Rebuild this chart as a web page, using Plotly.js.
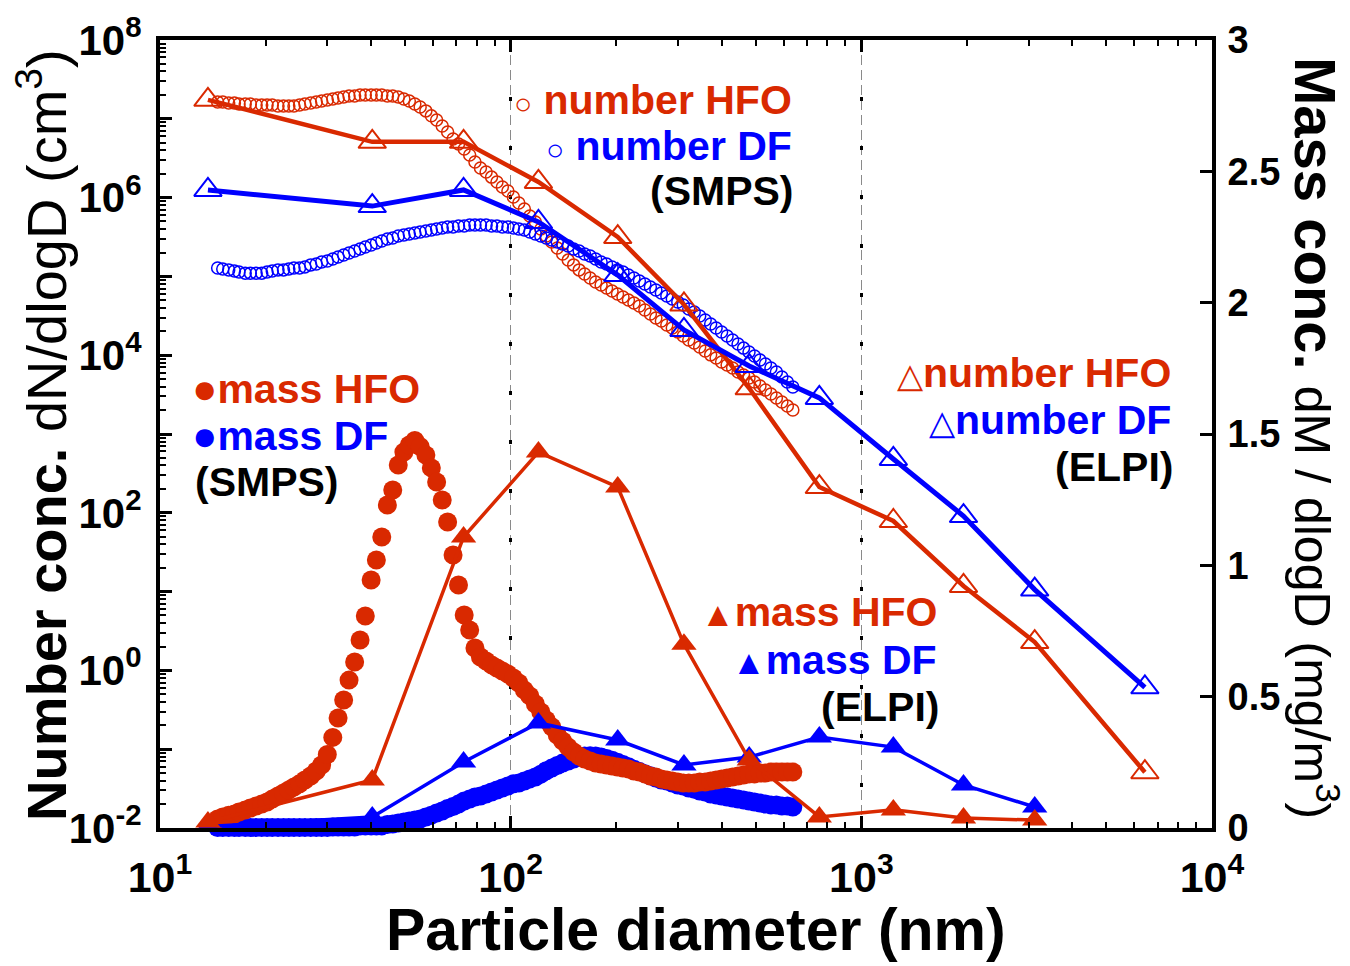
<!DOCTYPE html>
<html>
<head>
<meta charset="utf-8">
<script src="https://cdn.plot.ly/plotly-3.0.1.min.js"></script>
<style>html,body{margin:0;padding:0;background:#fff;}</style>
</head>
<body>
<div id="chart" style="width:1350px;height:966px;"></div>
<script>
// SMPS channel diameters (nm)
const smpsD = [14.6, 15.1, 15.7, 16.3, 16.8, 17.5, 18.1, 18.8, 19.5, 20.2,
  20.9, 21.7, 22.5, 23.3, 24.1, 25.0, 25.9, 26.9, 27.9, 28.9,
  30.0, 31.1, 32.2, 33.4, 34.6, 35.9, 37.2, 38.5, 40.0, 41.4,
  42.9, 44.5, 46.1, 47.8, 49.6, 51.4, 53.3, 55.2, 57.3, 59.4,
  61.5, 63.8, 66.1, 68.5, 71.0, 73.7, 76.4, 79.1, 82.0, 85.1,
  88.2, 91.4, 94.7, 98.2, 101.8, 105.5, 109.4, 113.4, 117.6, 121.9,
  126.3, 131.0, 135.8, 140.7, 145.9, 151.2, 156.8, 162.5, 168.5, 174.7,
  181.1, 187.7, 194.6, 201.7, 209.1, 216.7, 224.7, 232.9, 241.4, 250.3,
  259.5, 269.0, 278.8, 289.0, 299.6, 310.6, 322.0, 333.8, 346.0, 358.7,
  371.8, 385.4, 399.5, 414.2, 429.4, 445.1, 461.4, 478.3, 495.8, 514.0,
  532.8, 552.3, 572.5, 593.5, 615.3, 637.8];

// SMPS number concentration dN/dlogD (cm^-3)
const numberHFO_SMPS = [1.63e7, 1.63e7, 1.59e7, 1.59e7, 1.54e7, 1.54e7, 1.54e7, 1.50e7, 1.50e7, 1.50e7,
  1.50e7, 1.45e7, 1.45e7, 1.45e7, 1.45e7, 1.50e7, 1.54e7, 1.59e7, 1.63e7, 1.68e7,
  1.73e7, 1.78e7, 1.84e7, 1.89e7, 1.95e7, 1.95e7, 2.00e7, 2.00e7, 2.00e7, 2.00e7,
  2.00e7, 1.95e7, 1.95e7, 1.89e7, 1.78e7, 1.68e7, 1.54e7, 1.41e7, 1.26e7, 1.09e7,
  9.66e6, 8.10e6, 6.80e6, 5.54e6, 4.79e6, 4.14e6, 3.47e6, 2.83e6, 2.38e6, 2.11e6,
  1.82e6, 1.58e6, 1.36e6, 1.21e6, 1.02e6, 8.54e5, 7.16e5, 5.84e5, 4.90e5, 4.00e5,
  3.26e5, 2.73e5, 2.29e5, 1.92e5, 1.61e5, 1.40e5, 1.21e5, 1.07e5, 9.55e4, 8.49e4,
  7.78e4, 7.13e4, 6.53e4, 5.98e4, 5.48e4, 5.02e4, 4.59e4, 4.21e4, 3.75e4, 3.33e4,
  2.96e4, 2.72e4, 2.42e4, 2.21e4, 1.97e4, 1.75e4, 1.56e4, 1.43e4, 1.27e4, 1.13e4,
  1.01e4, 9.21e3, 8.20e3, 7.51e3, 6.88e3, 6.12e3, 5.61e3, 5.14e3, 4.57e3, 4.07e3,
  3.61e3, 3.22e3, 2.86e3, 2.55e3, 2.26e3, 2.02e3];
const numberDF_SMPS = [1.28e5, 1.24e5, 1.21e5, 1.17e5, 1.14e5, 1.10e5, 1.10e5, 1.10e5, 1.10e5, 1.14e5,
  1.17e5, 1.21e5, 1.21e5, 1.24e5, 1.28e5, 1.28e5, 1.32e5, 1.40e5, 1.44e5, 1.52e5,
  1.57e5, 1.66e5, 1.76e5, 1.87e5, 1.98e5, 2.10e5, 2.23e5, 2.36e5, 2.50e5, 2.65e5,
  2.81e5, 2.98e5, 3.07e5, 3.26e5, 3.35e5, 3.45e5, 3.56e5, 3.66e5, 3.77e5, 3.88e5,
  3.99e5, 4.11e5, 4.24e5, 4.24e5, 4.36e5, 4.36e5, 4.49e5, 4.49e5, 4.49e5, 4.49e5,
  4.36e5, 4.36e5, 4.24e5, 4.24e5, 4.11e5, 3.99e5, 3.88e5, 3.66e5, 3.45e5, 3.26e5,
  3.07e5, 2.90e5, 2.73e5, 2.58e5, 2.43e5, 2.23e5, 2.10e5, 1.92e5, 1.82e5, 1.66e5,
  1.52e5, 1.44e5, 1.32e5, 1.21e5, 1.14e5, 1.04e5, 9.55e4, 8.75e4, 8.01e4, 7.33e4,
  6.72e4, 6.15e4, 5.64e4, 5.16e4, 4.73e4, 4.33e4, 3.85e4, 3.53e4, 3.14e4, 2.80e4,
  2.49e4, 2.21e4, 1.97e4, 1.75e4, 1.56e4, 1.39e4, 1.23e4, 1.10e4, 9.77e3, 8.69e3,
  7.73e3, 6.88e3, 6.12e3, 5.29e3, 4.57e3, 3.95e3];

// SMPS mass concentration dM/dlogD (mg/m^3)
const massHFO_SMPS = [0.034, 0.042, 0.049, 0.053, 0.061, 0.069, 0.076, 0.084, 0.091, 0.099,
  0.110, 0.122, 0.133, 0.145, 0.156, 0.168, 0.183, 0.198, 0.217, 0.240,
  0.280, 0.345, 0.419, 0.487, 0.563, 0.632, 0.716, 0.807, 0.944, 1.020,
  1.108, 1.230, 1.287, 1.382, 1.431, 1.458, 1.475, 1.452, 1.420, 1.371,
  1.317, 1.249, 1.165, 1.039, 0.925, 0.811, 0.754, 0.685, 0.651, 0.636,
  0.621, 0.609, 0.598, 0.586, 0.571, 0.552, 0.525, 0.503, 0.472, 0.442,
  0.411, 0.385, 0.354, 0.331, 0.308, 0.289, 0.274, 0.263, 0.255, 0.247,
  0.244, 0.240, 0.236, 0.232, 0.228, 0.225, 0.217, 0.213, 0.206, 0.198,
  0.194, 0.187, 0.183, 0.179, 0.175, 0.171, 0.171, 0.171, 0.175, 0.175,
  0.179, 0.183, 0.187, 0.190, 0.194, 0.198, 0.202, 0.206, 0.206, 0.209,
  0.209, 0.213, 0.213, 0.213, 0.213, 0.213];
const massDF_SMPS = [0.002, 0.002, 0.002, 0.002, 0.002, 0.002, 0.002, 0.002, 0.002, 0.002,
  0.002, 0.002, 0.002, 0.002, 0.002, 0.002, 0.002, 0.002, 0.002, 0.002,
  0.002, 0.004, 0.004, 0.004, 0.004, 0.004, 0.008, 0.008, 0.008, 0.008,
  0.008, 0.013, 0.015, 0.019, 0.023, 0.027, 0.030, 0.034, 0.042, 0.049,
  0.057, 0.065, 0.074, 0.082, 0.091, 0.103, 0.110, 0.118, 0.122, 0.129,
  0.137, 0.145, 0.152, 0.160, 0.168, 0.171, 0.179, 0.187, 0.194, 0.205,
  0.218, 0.228, 0.238, 0.247, 0.255, 0.263, 0.270, 0.274, 0.275, 0.274,
  0.270, 0.265, 0.258, 0.250, 0.242, 0.233, 0.224, 0.215, 0.207, 0.199,
  0.190, 0.183, 0.179, 0.171, 0.164, 0.160, 0.152, 0.148, 0.141, 0.137,
  0.129, 0.126, 0.122, 0.118, 0.114, 0.110, 0.107, 0.103, 0.099, 0.095,
  0.091, 0.088, 0.088, 0.084, 0.084, 0.080];

// ELPI stage diameters (nm)
const elpiD = [13.7, 40.3, 73.4, 120, 202, 312, 479, 759, 1234, 1956, 3122, 6436];
const numberHFO_ELPI = [1.74e7, 5.1e6, 5.1e6, 1.58e6, 3.16e5, 4.4e4, 3.8e3, 212, 78.7, 11.8, 2.29, 0.051];
const numberDF_ELPI = [1.25e6, 7.8e5, 1.25e6, 4.9e5, 1.04e5, 2.09e4, 7.3e3, 2.87e3, 482, 91, 10.6, 0.61];
const elpiMassD = [13.7, 40.3, 73.4, 120, 202, 312, 479, 759, 1234, 1956, 3122];
const massHFO_ELPI = [0.023, 0.183, 1.108, 1.431, 1.298, 0.700, 0.259, 0.042, 0.069, 0.038, 0.030];
const massDF_ELPI = [0.006, 0.042, 0.251, 0.400, 0.335, 0.240, 0.270, 0.346, 0.308, 0.164, 0.080];

// axis tick labels
const xTickVals = [10, 100, 1000, 10000];
const xTickText = ['10<sup>1</sup>', '10<sup>2</sup>', '10<sup>3</sup>', '10<sup>4</sup>'];
const yTickVals = [1e-2, 1e-1, 1, 10, 100, 1e3, 1e4, 1e5, 1e6, 1e7, 1e8];
const yTickText = ['10<sup>-2</sup>', '', '10<sup>0</sup>', '', '10<sup>2</sup>', '', '10<sup>4</sup>', '', '10<sup>6</sup>', '', '10<sup>8</sup>'];

const RED = 'rgb(217,41,0)';
const BLUE = 'rgb(0,0,255)';
const FONT = 'Liberation Sans, Arial, Helvetica, sans-serif';

function minorTicks(k0, k1) {
  const out = [];
  for (let k = k0; k <= k1; k++) for (let m = 2; m <= 9; m++) out.push(m * Math.pow(10, k));
  return out;
}

const traces = [
  // carrier for the overlay x axis that draws the dark marks of the dash-dot grid
  {x: [], y: [], type: 'scatter', mode: 'markers', xaxis: 'x2', yaxis: 'y', hoverinfo: 'skip'},
  {x: smpsD, y: numberHFO_SMPS, type: 'scatter', mode: 'markers', yaxis: 'y',
   marker: {symbol: 'circle-open', size: 12, color: RED, line: {width: 1.5, color: RED}}},
  {x: smpsD, y: numberDF_SMPS, type: 'scatter', mode: 'markers', yaxis: 'y',
   marker: {symbol: 'circle-open', size: 12, color: BLUE, line: {width: 1.5, color: BLUE}}},
  {x: elpiD, y: numberHFO_ELPI, type: 'scatter', mode: 'lines+markers', yaxis: 'y',
   line: {color: RED, width: 4.5}, cliponaxis: false,
   marker: {symbol: 'triangle-up-open', size: 24, color: RED, line: {width: 2, color: RED}}},
  {x: elpiD, y: numberDF_ELPI, type: 'scatter', mode: 'lines+markers', yaxis: 'y',
   line: {color: BLUE, width: 5}, cliponaxis: false,
   marker: {symbol: 'triangle-up-open', size: 24, color: BLUE, line: {width: 2, color: BLUE}}},
  {x: smpsD, y: massDF_SMPS, type: 'scatter', mode: 'markers', yaxis: 'y2', cliponaxis: false,
   marker: {symbol: 'circle', size: 19, color: BLUE}},
  {x: smpsD, y: massHFO_SMPS, type: 'scatter', mode: 'markers', yaxis: 'y2', cliponaxis: false,
   marker: {symbol: 'circle', size: 19, color: RED}},
  {x: elpiMassD, y: massDF_ELPI, type: 'scatter', mode: 'lines+markers', yaxis: 'y2', cliponaxis: false,
   line: {color: BLUE, width: 3.5},
   marker: {symbol: 'triangle-up', size: 22, color: BLUE}},
  {x: elpiMassD, y: massHFO_ELPI, type: 'scatter', mode: 'lines+markers', yaxis: 'y2', cliponaxis: false,
   line: {color: RED, width: 3.5},
   marker: {symbol: 'triangle-up', size: 22, color: RED}}
];

function px(x) { return (x - 160) / 1052; }
function py(y) { return (828 - y) / 788; }

const LEG = 41;
function ann(text, x, y, xanchor, color) {
  return {text: text, x: px(x), y: py(y), xref: 'paper', yref: 'paper',
    xanchor: xanchor, yanchor: 'middle', showarrow: false,
    font: {family: FONT, size: LEG, color: color, weight: 'bold'}};
}
const OC = '<span style="font-size:30px;font-weight:normal">○</span>';
const FC = '<span style="font-size:42px">●</span>';
const OT = '<span style="font-size:34px;font-weight:normal">△</span>';
const FT = '<span style="font-size:34px">▲</span>';

const annotations = [
  ann(OC + ' number HFO', 794, 100, 'right', RED),
  ann(OC + ' number DF', 794, 146, 'right', BLUE),
  ann('(SMPS)', 796, 191, 'right', 'black'),
  ann(FC + 'mass HFO', 190, 388, 'left', RED),
  ann(FC + 'mass DF', 190, 435, 'left', BLUE),
  ann('(SMPS)', 193, 482, 'left', 'black'),
  ann(OT + 'number HFO', 1173, 373, 'right', RED),
  ann(OT + 'number DF', 1173, 420, 'right', BLUE),
  ann('(ELPI)', 1175, 467, 'right', 'black'),
  ann(FT + 'mass HFO', 939, 612, 'right', RED),
  ann(FT + 'mass DF', 939, 660, 'right', BLUE),
  ann('(ELPI)', 941, 707, 'right', 'black'),
  // axis titles
  {text: '<b>Particle diameter (nm)</b>', x: px(696), y: py(930), xref: 'paper', yref: 'paper',
   xanchor: 'center', yanchor: 'middle', showarrow: false,
   font: {family: FONT, size: 59, color: 'black'}},
  {text: '<b>Number conc.</b> dN/dlogD (cm<sup>3</sup>)', x: px(42), y: py(435), xref: 'paper', yref: 'paper',
   xanchor: 'center', yanchor: 'middle', showarrow: false, textangle: -90,
   font: {family: FONT, size: 56, color: 'black'}},
  {text: '<b>Mass conc.</b> <span style="font-size:50px">dM / dlogD (mg/m<sup>3</sup>)</span>', x: px(1316), y: py(438), xref: 'paper', yref: 'paper',
   xanchor: 'center', yanchor: 'middle', showarrow: false, textangle: 90,
   font: {family: FONT, size: 58, color: 'black'}}
];

const layout = {
  width: 1350, height: 966,
  margin: {l: 160, r: 138, t: 40, b: 138},
  paper_bgcolor: 'white', plot_bgcolor: 'white',
  showlegend: false,
  font: {family: FONT, color: 'black'},
  xaxis: {
    type: 'log', range: [1, 4],
    tickmode: 'array', tickvals: xTickVals, ticktext: xTickText,
    ticks: 'inside', ticklen: 12, tickwidth: 3, tickcolor: 'black',
    showline: true, linewidth: 4, linecolor: 'black', mirror: 'ticks',
    showgrid: true, gridcolor: '#8a8a8a', gridwidth: 1.5, griddash: '10px,5px',
    zeroline: false, ticklabelstandoff: 8,
    tickfont: {family: FONT, size: 43, color: 'black', weight: 'bold'},
    minor: {tickmode: 'array', tickvals: minorTicks(1, 3), ticks: 'inside', ticklen: 6, tickwidth: 2, tickcolor: 'black', showgrid: false}
  },
  xaxis2: {
    type: 'log', range: [1, 4], overlaying: 'x', side: 'bottom',
    tickmode: 'array', tickvals: [100, 1000], showticklabels: false, ticks: '',
    showline: false, zeroline: false,
    showgrid: true, gridcolor: 'black', gridwidth: 3, griddash: '0px,8px,4px,37px'
  },
  yaxis: {
    type: 'log', range: [-2, 8],
    tickmode: 'array', tickvals: yTickVals, ticktext: yTickText,
    ticks: 'inside', ticklen: 12, tickwidth: 3, tickcolor: 'black',
    showline: true, linewidth: 4, linecolor: 'black', mirror: false,
    showgrid: false, zeroline: false, ticklabelstandoff: 6,
    tickfont: {family: FONT, size: 42, color: 'black', weight: 'bold'},
    minor: {tickmode: 'array', tickvals: minorTicks(-2, 7), ticks: 'inside', ticklen: 6, tickwidth: 2, tickcolor: 'black', showgrid: false}
  },
  yaxis2: {
    overlaying: 'y', side: 'right', range: [0, 3], dtick: 0.5, tick0: 0,
    ticks: 'inside', ticklen: 12, tickwidth: 3, tickcolor: 'black',
    showline: true, linewidth: 4, linecolor: 'black',
    showgrid: false, zeroline: false, ticklabelstandoff: 4,
    tickfont: {family: FONT, size: 38, color: 'black', weight: 'bold'}
  },
  annotations: annotations
};

Plotly.newPlot('chart', traces, layout, {displayModeBar: false, staticPlot: true});
</script>
</body>
</html>
